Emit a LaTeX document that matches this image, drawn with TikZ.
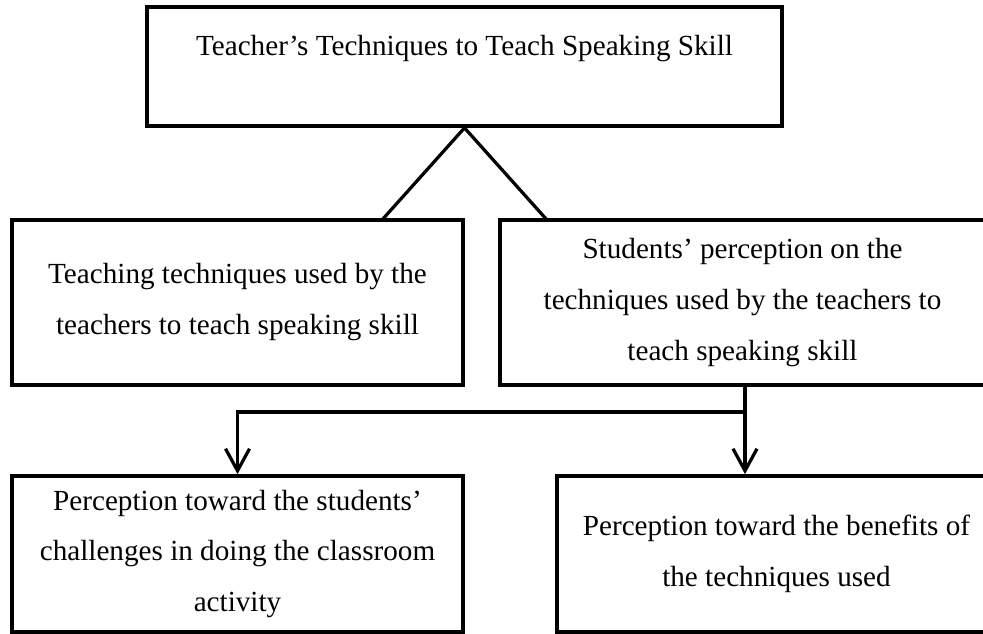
\documentclass[tikz,border=0pt]{standalone}
\usepackage{fontspec}
\setmainfont{Liberation Serif}
\usetikzlibrary{arrows.meta,calc,positioning}

\tikzset{
	frame/.style={draw, line width=0.075cm, align=center, inner sep=0pt,
		font=\fontsize{16.6}{29}\selectfont},
	link/.style={line width=0.065cm},
	linkarrow/.style={link, -{Straight Barb[length=0.44cm,width=0.48cm]}}
}

\begin{document}
\begin{tikzpicture}
                    \useasboundingbox (0.000000,0.000000) rectangle (19.660000,12.680000);
                    \clip (0.000000,0.000000) rectangle (19.660000,12.680000);
                    
                    % Drawing box topic
                    \node [frame, minimum width=12.700000cm, text height=0.980000cm, text depth=1.400000cm] (topic) at (9.290000,11.350000) {Teacher's Techniques to Teach Speaking Skill};%
                    
                    % Drawing box techL
                    \node [frame, minimum width=9.020000cm, minimum height=3.300000cm] (techL) at (4.750000,6.630000) {Teaching techniques used by the\\teachers to teach speaking skill};%
                    
                    % Drawing box techR
                    \node [frame, minimum width=9.700000cm, minimum height=3.300000cm] (techR) at (14.850000,6.630000) {Students' perception on the\\techniques used by the teachers to\\teach speaking skill};%
                    
                    % Drawing box chalL
                    \node [frame, minimum width=9.020000cm, minimum height=3.120000cm] (chalL) at (4.750000,1.600000) {Perception toward the students'\\challenges in doing the classroom\\activity};%
                    
                    % Drawing box beneR
                    \node [frame, minimum width=8.780000cm, minimum height=3.120000cm] (beneR) at (15.530000,1.600000) {Perception toward the benefits of\\the techniques used};%
                    
                    % Marking feet of the two legs and the split point
                    \coordinate (footL) at (7.640000,8.280000);%
                    \coordinate (footR) at (10.940000,8.280000);%
                    \coordinate (split) at (14.900000,4.440000);%
                    
                    % Drawing legs topic techL, topic techR
                    \draw [link] (footL) -- (topic.south) -- (footR);%
                    
                    % Drawing arrow techR beneR
                    \draw [linkarrow] (techR.south -| split) -- (beneR.north -| split);%
                    
                    % Drawing arrow split chalL
                    \draw [linkarrow] (split) -| (chalL.north);%
                \end{tikzpicture}
\end{document}
